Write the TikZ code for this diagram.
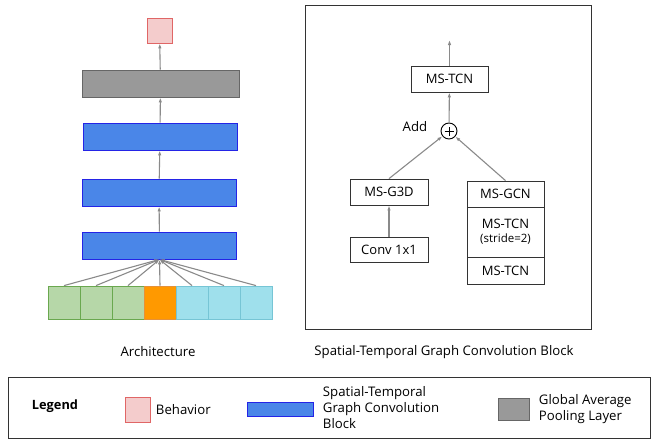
\documentclass[tikz,border=0pt]{standalone}
\usepackage{fontspec}
\setmainfont{Open Sans}
\usetikzlibrary{arrows.meta, positioning}
\definecolor{behavpink}{HTML}{F4CCCC}
\definecolor{behavedge}{HTML}{E06666}
\definecolor{stgcblue}{HTML}{4A86E8}
\definecolor{stgcedge}{HTML}{2424E6}
\definecolor{poolgray}{HTML}{999999}
\definecolor{pooledge}{HTML}{666666}
\definecolor{jointgreen}{HTML}{B6D7A8}
\definecolor{jointgreenedge}{HTML}{6AA84F}
\definecolor{jointorange}{HTML}{FF9900}
\definecolor{jointorangeedge}{HTML}{E69138}
\definecolor{jointcyan}{HTML}{9FE0EC}
\definecolor{jointcyanedge}{HTML}{76C5D5}
\definecolor{flowgray}{HTML}{8A8A8A}
\definecolor{framegray}{HTML}{333333}

\tikzset{
  layer/.style={draw, minimum width=154, minimum height=27, inner sep=0, line width=0.9},
  cell/.style={draw, minimum width=32, minimum height=33, inner sep=0, line width=0.8},
  opbox/.style={draw=framegray, fill=white, minimum width=78, minimum height=26, inner sep=0, line width=0.8, font=\fontsize{13}{15}\selectfont},
  flow/.style={draw=flowgray, line width=1.1, -{Latex[length=5pt,width=3.5pt]}},
  label/.style={font=\fontsize{13.2}{16}\selectfont},
}

\begin{document}
\begin{tikzpicture}[x=1pt, y=-1pt]
  \useasboundingbox (0,0) rectangle (654,439);

  % Architecture
  \node[layer, fill=behavpink, draw=behavedge, minimum width=25, minimum height=25] (behav) at (159.5,30.5) {};
  \node[layer, fill=poolgray, draw=pooledge, minimum width=157] (pool) at (160.5,83.5) {};
  \node[layer, fill=stgcblue, draw=stgcedge] (stgc3) at (160,136.5) {};
  \node[layer, fill=stgcblue, draw=stgcedge] (stgc2) at (159,192.5) {};
  \node[layer, fill=stgcblue, draw=stgcedge] (stgc1) at (159.5,245.5) {};

  \foreach \i/\fc/\ec in {0/jointgreen/jointgreenedge, 1/jointgreen/jointgreenedge, 2/jointgreen/jointgreenedge,
                          3/jointorange/jointorangeedge,
                          4/jointcyan/jointcyanedge, 5/jointcyan/jointcyanedge, 6/jointcyan/jointcyanedge}
    \node[cell, fill=\fc, draw=\ec] (j\i) at ({64+32*\i},302.5) {};

  \foreach \i in {0,...,6}
    \draw[flow] (j\i.north) -- (stgc1.south);
  \draw[flow] (stgc1) -- (stgc2);
  \draw[flow] (stgc2) -- (stgc3);
  \draw[flow] (stgc3) -- (pool);
  \draw[flow] (pool) -- (behav);

  \node[label] (archlabel) at (158,352) {Architecture};

  % Spatial-temporal graph convolution block
  \draw[framegray, line width=0.9] (305,5) rectangle (591,329);

  \node[opbox, minimum width=77] (tcnout) at (449.5,79) {MS-TCN};
  \coordinate (blockout) at (449.5,40);
  \node[draw=black, circle, minimum size=16, inner sep=0, line width=0.9] (add) at (449,131) {};
  \draw[line width=0.9] ([xshift=-4.5pt]add.center) -- ([xshift=4.5pt]add.center);
  \draw[line width=0.9] ([yshift=-4.5pt]add.center) -- ([yshift=4.5pt]add.center);
  \node[label] (addlabel) at (415,127) {Add};

  \node[opbox] (g3d) at (389,192) {MS-G3D};
  \node[opbox, minimum height=25] (conv) at (389,249.5) {Conv 1x1};

  \node[opbox, minimum width=77] (gcn) at (505.5,194) {MS-GCN};
  \node[opbox, minimum width=77, minimum height=50, align=center] (tcnstride) at (505.5,232)
    {MS-TCN\\[-1pt]{\fontsize{11.5}{12}\selectfont (stride=2)}};
  \node[opbox, minimum width=77, minimum height=27] (tcnlast) at (505.5,270.5) {MS-TCN};

  \draw[flow] (conv) -- (g3d);
  \draw[flow] (g3d.north) -- (add);
  \draw[flow] (gcn.north) -- (add);
  \draw[flow] (add) -- (tcnout);
  \draw[flow] (tcnout) -- (blockout);

  \node[label] (blocklabel) at (444,352) {Spatial-Temporal Graph Convolution Block};

  % Legend
  \draw[framegray, line width=0.9] (8,377) rectangle (650,438);
  \node[label, font=\fontsize{12.8}{16}\selectfont\bfseries] (legendtitle) at (55,406) {Legend};

  \node[fill=behavpink, draw=behavedge, line width=0.9, minimum size=25, inner sep=0] (legbehav) at (137.5,409.5) {};
  \node[label, right=2pt of legbehav] (legbehavtext) {Behavior};

  \node[fill=stgcblue, draw=stgcedge, line width=0.9, minimum width=66, minimum height=14, inner sep=0] (legstgc) at (280,409) {};
  \node[label, right=6pt of legstgc, align=left, yshift=1.5pt] (legstgctext) {Spatial-Temporal\\Graph Convolution\\Block};

  \node[fill=poolgray, draw=pooledge, line width=0.9, minimum width=31, minimum height=22, inner sep=0] (legpool) at (513.5,409) {};
  \node[label, right=6pt of legpool, align=left] (legpooltext) {Global Average\\Pooling Layer};
\end{tikzpicture}
\end{document}
